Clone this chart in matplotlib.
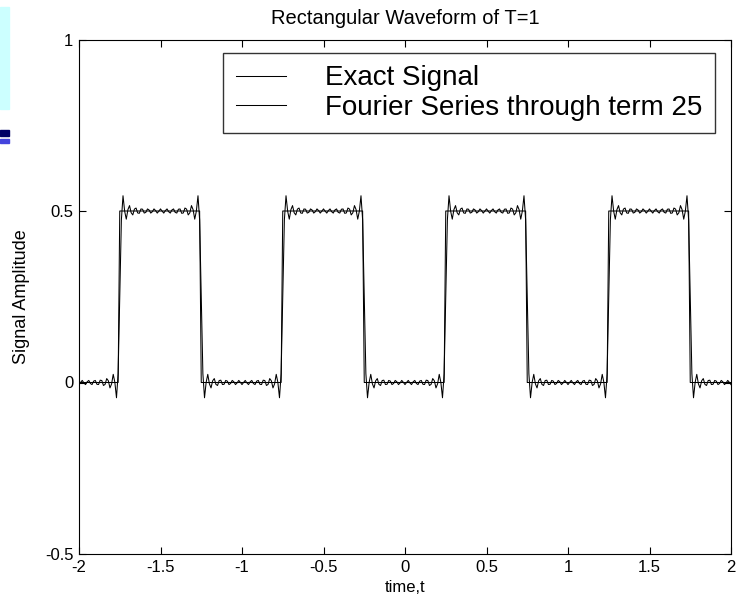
"""Rectangular pulse train (T=1) and its Fourier series truncated at term 25."""

import matplotlib

matplotlib.use("Agg")
import matplotlib.pyplot as plt
import numpy as np
from matplotlib.patches import Rectangle

plt.rcParams["font.family"] = ["Liberation Sans", "DejaVu Sans"]

# signal description
period = 1.0
amplitude = 0.5
rise_times = [-1.75, -0.75, 0.25, 1.25]
fall_times = [-1.25, -0.25, 0.75, 1.75]
n_terms = 25
t_start, t_stop, t_step = -2.0, 2.0, 0.01

x_ticks = [-2, -1.5, -1, -0.5, 0, 0.5, 1, 1.5, 2]
x_tick_labels = ["-2", "-1.5", "-1", "-0.5", "0", "0.5", "1", "1.5", "2"]
y_ticks = [-0.5, 0, 0.5, 1]
y_tick_labels = ["-0.5", "0", "0.5", "1"]

t = np.arange(t_start, t_stop + t_step / 2, t_step)

# exact signal, sampled on the same grid as the series
exact = np.zeros_like(t)
for r, f in zip(rise_times, fall_times):
    exact[(t > r - 1e-9) & (t < f - 1e-9)] = amplitude

# Fourier series: a0 + sum a_n cos(2 pi n (t - centre) / T)
width = fall_times[0] - rise_times[0]
centre = rise_times[2] + width / 2
a0 = amplitude * width / period
series = np.full_like(t, a0)
for n in range(1, n_terms + 1):
    an = 2 * amplitude / (n * np.pi) * np.sin(n * np.pi * width / period)
    series += an * np.cos(2 * np.pi * n * (t - centre) / period)

fig = plt.figure(figsize=(7.4, 6.05), dpi=100)

# leftovers of the slide background at the top-left corner
fig.patches.append(Rectangle((0, 1 - 109 / 605), 9 / 740, 102 / 605,
                             transform=fig.transFigure, color="#ccffff", zorder=0))
fig.patches.append(Rectangle((0, 1 - 136 / 605), 9 / 740, 6 / 605,
                             transform=fig.transFigure, color="#000066", zorder=0))
fig.patches.append(Rectangle((0, 1 - 143 / 605), 9 / 740, 4 / 605,
                             transform=fig.transFigure, color="#4444dd", zorder=0))

ax = fig.add_axes([79 / 740, 51 / 605, 652 / 740, 514.5 / 605])
ax.plot(t, exact, color="black", lw=0.75, label="Exact Signal")
ax.plot(t, series, color="black", lw=0.75, label="Fourier Series through term 25")

ax.set_xlim(-2, 2)
ax.set_ylim(-0.5, 1)
ax.set_xticks(x_ticks, x_tick_labels)
ax.set_yticks(y_ticks, y_tick_labels)
ax.tick_params(direction="in", top=True, right=True, length=5, width=0.8,
               labelsize=12, pad=4)
for s in ax.spines.values():
    s.set_linewidth(0.8)

ax.set_title("Rectangular Waveform of T=1", fontsize=14.5, pad=11)
ax.set_xlabel("time,t", fontsize=12, labelpad=4)
ax.set_ylabel("Signal Amplitude", fontsize=13, labelpad=11)

leg = ax.legend(loc="upper right", bbox_to_anchor=(0.975, 0.974), borderaxespad=0,
                fontsize=20, fancybox=False, frameon=True, handlelength=1.8,
                handletextpad=1.4, borderpad=0.45, labelspacing=0.12)
leg.get_frame().set_edgecolor("black")
leg.get_frame().set_linewidth(1.0)

fig.savefig("out.png", dpi=100)
